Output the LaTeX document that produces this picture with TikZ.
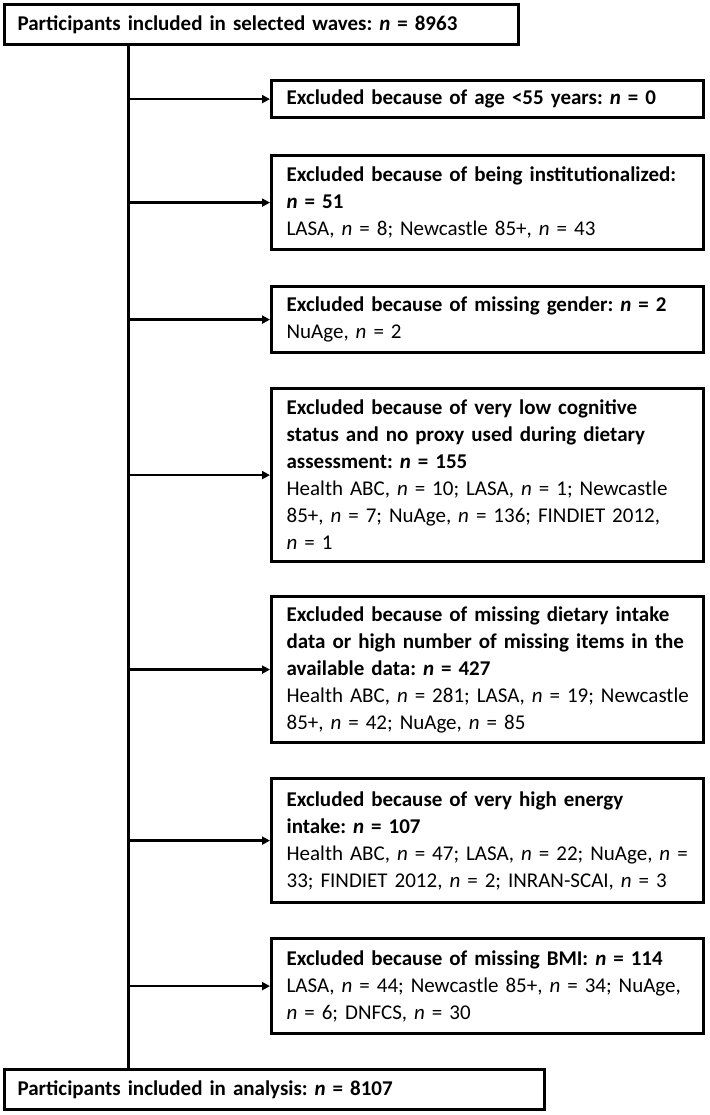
\documentclass[tikz,border=0pt]{standalone}
\usepackage{fontspec}
\setmainfont{Carlito}
\usetikzlibrary{arrows.meta}
\newcommand\oneline[1]{\mbox{#1}}
\hfuzz=60pt
\hbadness=10000
\begin{document}
\frenchspacing
\begin{tikzpicture}[x=1pt,y=-1pt,
  boxbase/.style={draw, line width=3.2pt, anchor=north west, inner ysep=0pt,
    align=left, font=\fontsize{21}{27}\selectfont},
  exbox/.style={boxbase, minimum width=432pt, text width=402pt, inner xsep=15pt},
  mainbox/.style={boxbase, inner xsep=13pt, minimum height=40pt, text width=#1},
  conn/.style={line width=2.5pt},
  arr/.style={conn, -{Triangle[length=8pt,width=8pt]}}
]
\useasboundingbox (0,0) rectangle (709,1115);
\coordinate (spine) at (128.5,0);

\node[mainbox=488pt] (top) at (3,3)
  {\oneline{\textbf{Participants included in selected waves: \textit{n} = 8963}}};

\node[exbox, minimum height=37pt] (b1) at (270,79)
  {\oneline{\textbf{Excluded because of age <55 years: \textit{n} = 0}}};
\node[exbox, minimum height=94pt] (b2) at (270,154)
  {\oneline{\textbf{Excluded because of being institutionalized:}}\\
   \oneline{\textbf{\textit{n} = 51}}\\
   \oneline{LASA, \textit{n} = 8; Newcastle 85+, \textit{n} = 43}};
\node[exbox, minimum height=66pt] (b3) at (270,285)
  {\oneline{\textbf{Excluded because of missing gender: \textit{n} = 2}}\\
   \oneline{NuAge, \textit{n} = 2}};
\node[exbox, minimum height=173pt] (b4) at (270,387)
  {\oneline{\textbf{Excluded because of very low cognitive}}\\
   \oneline{\textbf{status and no proxy used during dietary}}\\
   \oneline{\textbf{assessment: \textit{n} = 155}}\\
   \oneline{Health ABC, \textit{n} = 10; LASA, \textit{n} = 1; Newcastle}\\
   \oneline{85+, \textit{n} = 7; NuAge, \textit{n} = 136; FINDIET 2012,}\\
   \oneline{\textit{n} = 1}};
\node[exbox, minimum height=146pt] (b5) at (270,595)
  {\oneline{\textbf{Excluded because of missing dietary intake}}\\
   \oneline{\textbf{data or high number of missing items in the}}\\
   \oneline{\textbf{available data: \textit{n} = 427}}\\
   \oneline{Health ABC, \textit{n} = 281; LASA, \textit{n} = 19; Newcastle}\\
   \oneline{85+, \textit{n} = 42; NuAge, \textit{n} = 85}};
\node[exbox, minimum height=124pt] (b6) at (270,777)
  {\oneline{\textbf{Excluded because of very high energy}}\\
   \oneline{\textbf{intake: \textit{n} = 107}}\\
   \oneline{Health ABC, \textit{n} = 47; LASA, \textit{n} = 22; NuAge, \textit{n} =}\\
   \oneline{33; FINDIET 2012, \textit{n} = 2; INRAN-SCAI, \textit{n} = 3}};
\node[exbox, minimum height=95pt] (b7) at (270,937)
  {\oneline{\textbf{Excluded because of missing BMI: \textit{n} = 114}}\\
   \oneline{LASA, \textit{n} = 44; Newcastle 85+, \textit{n} = 34; NuAge,}\\
   \oneline{\textit{n} = 6; DNFCS, \textit{n} = 30}};

\node[mainbox=514pt] (bot) at (3,1068)
  {\oneline{\textbf{Participants included in analysis: \textit{n} = 8107}}};

\draw[conn] (top.south -| spine) -- (bot.north -| spine);
\foreach \b in {b1,b2,b3,b4,b5,b6,b7}
  \draw[arr] (\b.west -| spine) -- (\b.west);
\end{tikzpicture}
\end{document}
